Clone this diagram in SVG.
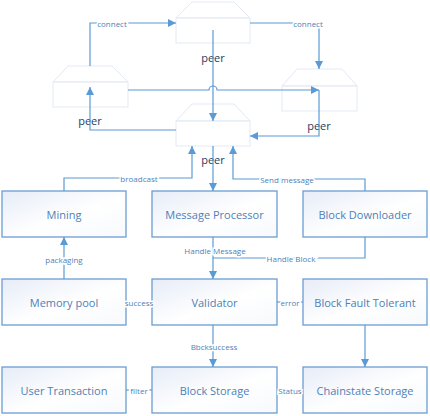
<svg xmlns="http://www.w3.org/2000/svg" width="430" height="416" viewBox="0 0 430 416">
<defs>
<linearGradient id="bg" x1="0" y1="0" x2="1" y2="1">
<stop offset="0" stop-color="#e6ecf7"/>
<stop offset="0.55" stop-color="#ffffff"/>
<stop offset="1" stop-color="#f7f9fc"/>
</linearGradient>
<marker id="ar" viewBox="0 0 10 10" refX="10" refY="5" markerWidth="8" markerHeight="8" markerUnits="userSpaceOnUse" orient="auto">
<path d="M0,0 L10,5 L0,10 z" fill="#5b9bd5"/>
</marker>
<style>
.box{fill:url(#bg);stroke:#6c9dd2;stroke-width:1.3}
.peer{fill:#ffffff;fill-opacity:0.6;stroke:#e3e9f2;stroke-width:1}
.bt{font-family:"Open Sans","DejaVu Sans",sans-serif;font-size:11px;fill:#4f7fb8;text-anchor:middle;dominant-baseline:central}
.pt{font-family:"Open Sans","DejaVu Sans",sans-serif;font-size:11px;fill:#1f3b60;text-anchor:middle;dominant-baseline:central}
.ln{fill:none;stroke:#5b9bd5;stroke-width:1.2}
.lb{font-family:"Open Sans","DejaVu Sans",sans-serif;font-size:8px;fill:#4f7fb8;text-anchor:middle;dominant-baseline:central;paint-order:stroke;stroke:#ffffff;stroke-width:3px}
</style>
</defs>
<rect width="430" height="416" fill="#ffffff"/>
<g id="peer-top"><path class="peer" d="M176,18 L192,2 L234,2 L250,18 Z"/><rect class="peer" x="176" y="18" width="74" height="25"/><text class="pt" x="213" y="57">peer</text></g>
<g id="peer-left"><path class="peer" d="M53,82 L68,66 L112,66 L128,82 Z"/><rect class="peer" x="53" y="82" width="75" height="25"/><text class="pt" x="90" y="120">peer</text></g>
<g id="peer-right"><path class="peer" d="M282,86 L297,69 L342,69 L357,86 Z"/><rect class="peer" x="282" y="86" width="75" height="25"/><text class="pt" x="319" y="125">peer</text></g>
<g id="peer-center"><path class="peer" d="M176,121 L192,104 L234,104 L250,121 Z"/><rect class="peer" x="176" y="121" width="74" height="25"/><text class="pt" x="213" y="159">peer</text></g>
<g id="mining"><rect class="box" x="2" y="191" width="124" height="46"/><text class="bt" x="64" y="214">Mining</text></g>
<g id="message-processor"><rect class="box" x="152" y="191" width="125" height="46"/><text class="bt" x="214.5" y="214">Message Processor</text></g>
<g id="block-downloader"><rect class="box" x="303" y="191" width="124" height="46"/><text class="bt" x="365" y="214">Block Downloader</text></g>
<g id="memory-pool"><rect class="box" x="2" y="279" width="124" height="46"/><text class="bt" x="64" y="302">Memory pool</text></g>
<g id="validator"><rect class="box" x="152" y="279" width="125" height="46"/><text class="bt" x="214.5" y="302">Validator</text></g>
<g id="block-fault-tolerant"><rect class="box" x="303" y="279" width="124" height="46"/><text class="bt" x="365" y="302">Block Fault Tolerant</text></g>
<g id="user-transaction"><rect class="box" x="2" y="367" width="124" height="46"/><text class="bt" x="64" y="390">User Transaction</text></g>
<g id="block-storage"><rect class="box" x="152" y="367" width="125" height="46"/><text class="bt" x="214.5" y="390">Block Storage</text></g>
<g id="chainstate-storage"><rect class="box" x="303" y="367" width="124" height="46"/><text class="bt" x="365" y="390">Chainstate Storage</text></g>
<g id="connectors">
<path class="ln" d="M90,66 V23 H176" marker-end="url(#ar)"/>
<path class="ln" d="M250,23 H319 V69" marker-end="url(#ar)"/>
<path class="ln" d="M128,90 H209 a4,4 0 0 1 8,0 H319" marker-end="url(#ar)"/>
<path class="ln" d="M213,30 V121" marker-end="url(#ar)"/>
<path class="ln" d="M319,90 V136 H250" marker-end="url(#ar)"/>
<path class="ln" d="M176,130 H90 V87" marker-end="url(#ar)"/>
<path class="ln" d="M64,191 V178 H192 V146" marker-end="url(#ar)"/>
<path class="ln" d="M213,146 V191" marker-end="url(#ar)"/>
<path class="ln" d="M365,191 V179 H233 V146" marker-end="url(#ar)"/>
<path class="ln" d="M213,237 V279" marker-end="url(#ar)"/>
<path class="ln" d="M365,237 V258 H213"/>
<path class="ln" d="M64,279 V237" marker-end="url(#ar)"/>
<path class="ln" d="M126,302 H152"/>
<path class="ln" d="M277,302 H303"/>
<path class="ln" d="M213,325 V367" marker-end="url(#ar)"/>
<path class="ln" d="M365,325 V367" marker-end="url(#ar)"/>
<path class="ln" d="M126,390 H152"/>
<path class="ln" d="M277,390 H303"/>
<text class="lb" x="112" y="23">connect</text>
<text class="lb" x="308" y="23">connect</text>
<text class="lb" x="139" y="178">broadcast</text>
<text class="lb" x="287" y="179">Send message</text>
<text class="lb" x="215" y="250">Handle Message</text>
<text class="lb" x="291" y="258">Handle Block</text>
<text class="lb" x="64" y="259">packaging</text>
<text class="lb" x="139" y="302">success</text>
<text class="lb" x="290" y="302">error</text>
<text class="lb" x="214" y="346">Bbcksuccess</text>
<text class="lb" x="139" y="390">filter</text>
<text class="lb" x="290" y="390">Status</text>
</g>
</svg>
